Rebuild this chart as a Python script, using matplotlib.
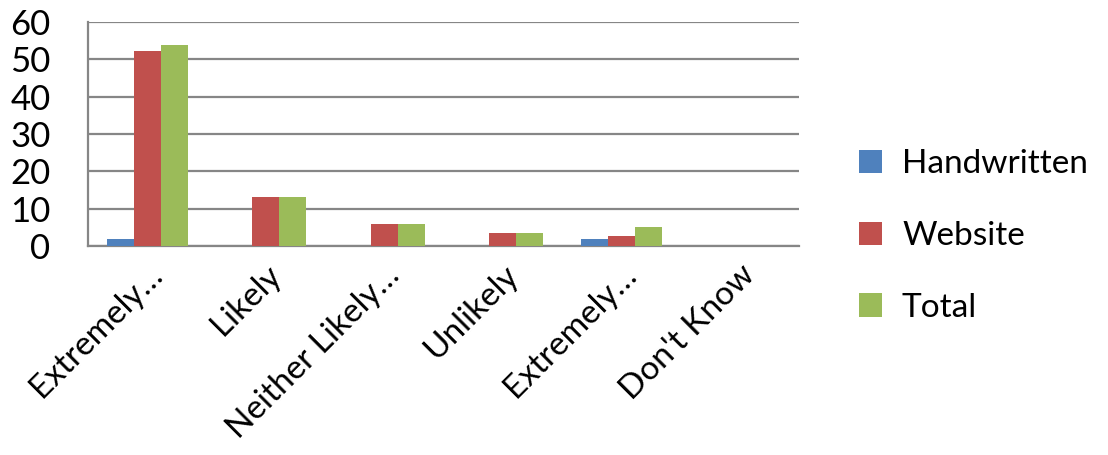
import matplotlib.pyplot as plt
from matplotlib.patches import Patch
import numpy as np

categories = ["Extremely…", "Likely", "Neither Likely…", "Unlikely", "Extremely…", "Don't Know"]
handwritten = [1.8, 0, 0, 0, 1.8, 0]
website = [52.3, 13.0, 5.8, 3.5, 2.6, 0]
total = [53.9, 13.0, 5.8, 3.5, 5.0, 0]
series_names = ["Handwritten", "Website", "Total"]
colors = ["#4F81BD", "#C0504D", "#9BBB59"]
yticks = [0, 10, 20, 30, 40, 50, 60]

plt.rcParams['font.family'] = ['Lato', 'DejaVu Sans']
grid_col = "#868686"

fig = plt.figure(figsize=(11.08, 4.55), dpi=100)
ax = fig.add_axes([88/1108, 1 - 246/455, 711/1108, 224/455])

x = np.arange(len(categories))
w = 0.228
for i, (vals, col) in enumerate(zip([handwritten, website, total], colors)):
    ax.bar(x + (i - 1) * w, vals, width=w, color=col, zorder=3)

ax.set_xlim(-0.5, len(categories) - 0.5)
ax.set_ylim(0, 60)
ax.set_yticks(yticks)
ax.yaxis.grid(True, color=grid_col, linewidth=1.6, zorder=0)
ax.set_axisbelow(True)
for s in ["top", "right"]:
    ax.spines[s].set_visible(False)
for s in ["left", "bottom"]:
    ax.spines[s].set_color(grid_col)
    ax.spines[s].set_linewidth(1.6)
ax.tick_params(axis='y', length=0, labelsize=25, pad=27)
ax.set_xticks(x)
ax.set_xticklabels(categories, rotation=45, ha='right', rotation_mode='anchor')
ax.tick_params(axis='x', length=0, labelsize=24, pad=10)

handles = [Patch(facecolor=c) for c in colors]
fig.legend(handles, series_names, loc='center left', bbox_to_anchor=(842/1108, 1 - 236/455),
           frameon=False, fontsize=24, handlelength=0.7, handleheight=0.7,
           handletextpad=0.6, labelspacing=1.25, borderpad=0)

fig.savefig("out.png", dpi=100)
